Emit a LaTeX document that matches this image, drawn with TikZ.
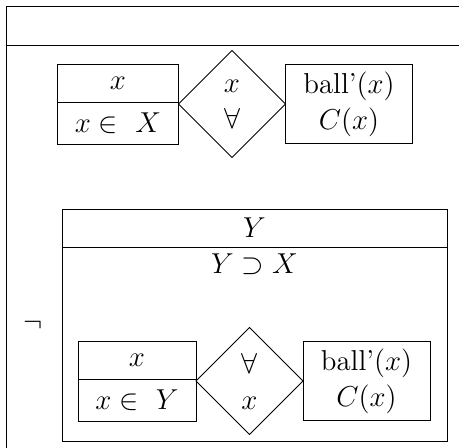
\documentclass[tikz,border=0pt]{standalone}
\usetikzlibrary{positioning, shapes.geometric, calc}
\tikzset{
  cell/.style={rectangle, draw, inner sep=0pt, outer sep=0pt, font=\Large},
  varcell/.style={cell, minimum height=19pt},
  condcell/.style={cell, minimum height=21pt},
  quant/.style={diamond, draw, aspect=1, inner sep=0pt, outer sep=0pt,
    minimum size=53.5pt, align=center, font=\Large},
  pred/.style={cell, minimum width=63.5pt, minimum height=39.5pt, align=center},
}
\begin{document}
\begin{tikzpicture}[x=0.5pt, y=-0.5pt]
\useasboundingbox (0,0) rectangle (459,448);
% outer frame, cut off at right and bottom
\draw (6.5,448) -- (6.5,6.5) -- (459,6.5);
\draw (6.5,45) -- (459,45);

% first box
\node[varcell, minimum width=60.5pt, anchor=north west] (varX) at (57.5,64) {$x$};
\node[condcell, minimum width=60.5pt, below=0pt of varX] (domX) {$x \in\ X$};
\node[quant, anchor=west] (allX) at ($(varX.north east)!.5!(domX.south east)$) {$x$\\$\forall$};
\node[pred, right=0pt of allX] (ballX) {ball'$(x)$\\$C(x)$};

% negated box
\node[font=\Large] (negY) at (33,325) {$\neg$};
\node[cell, minimum width=192.5pt, minimum height=19pt, anchor=north west] (headY) at (62,209) {$Y$};
\node[cell, minimum width=192.5pt, minimum height=97pt, below=0pt of headY,
  label={[font=\Large, anchor=north]north:$Y \supset X$}] (bodyY) {};
\node[varcell, minimum width=59pt, anchor=north west] (varY) at (78,341) {$x$};
\node[condcell, minimum width=59pt, below=0pt of varY] (domY) {$x \in\ Y$};
\node[quant, anchor=west] (allY) at ($(varY.north east)!.5!(domY.south east)$) {$\forall$\\$x$};
\node[pred, right=0pt of allY] (ballY) {ball'$(x)$\\$C(x)$};
\end{tikzpicture}
\end{document}
